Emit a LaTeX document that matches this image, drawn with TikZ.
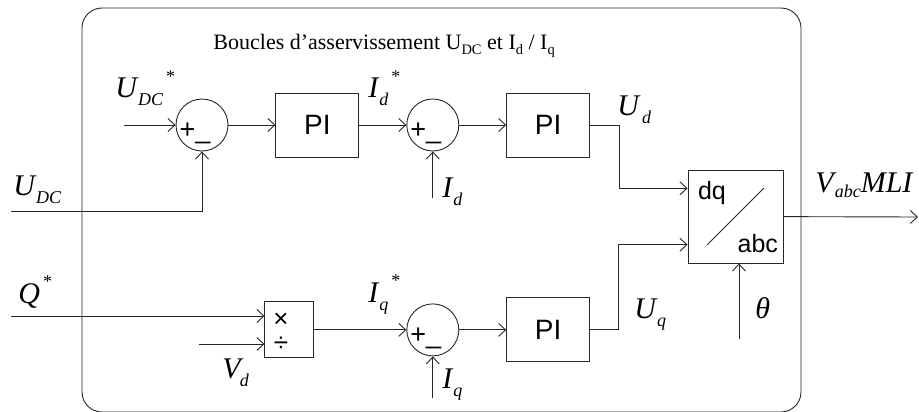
\documentclass[tikz,border=0pt]{standalone}
\usepackage{fontspec}
\setmainfont{Liberation Serif}
\setsansfont{Liberation Sans}
\usetikzlibrary{arrows.meta, positioning, calc}
\tikzstyle{signs} = [font=\sffamily\fontsize{27}{27}\selectfont, inner sep=0pt, xshift=-7pt, yshift=-8pt]
\tikzstyle{sum} = [circle, draw, minimum size=52pt, inner sep=0pt, label={[signs]center:+\textunderscore}]
\tikzstyle{pibox} = [rectangle, draw, minimum width=83pt, minimum height=64pt, font=\sffamily\fontsize{28}{28}\selectfont]
\tikzstyle{opbox} = [rectangle, draw, inner sep=0pt]
\tikzstyle{boxtxt} = [font=\sffamily\fontsize{25}{25}\selectfont, inner sep=0pt]
\tikzstyle{divtxt} = [font=\sffamily\fontsize{26}{26}\selectfont, inner sep=0pt]
\tikzstyle{sig} = [font=\fontsize{30}{30}\selectfont\itshape, inner sep=0pt, anchor=base west]
\tikzstyle{arrow} = [-{Straight Barb[length=7pt,width=13pt]}]
\newcommand{\lsub}[2][8pt]{\kern1pt\raisebox{-#1}{\fontsize{18}{18}\selectfont #2}}
\newcommand{\lstar}{\kern3pt\raisebox{16pt}{\fontsize{18}{18}\selectfont\upshape *}}
\newcommand{\tsub}[1]{\raisebox{-4.5pt}{\fontsize{14.5}{14.5}\selectfont #1}}

\begin{document}
\begin{tikzpicture}[x=1pt, y=-1pt, line width=0.9pt, draw=black!85, node distance=47pt]
\useasboundingbox (0,0) rectangle (919,412);
\draw[rounded corners=20pt] (82,8) rectangle (801,412);
\node (title) [anchor=base west, inner sep=0pt] at (213,50) {\fontsize{22}{22}\selectfont Boucles d’asservissement U\tsub{DC} et I\tsub{d} / I\tsub{q}};

% boucle U_DC / I_d
\node (sum1) [sum] at (202,125) {};
\node (pi1) [pibox, right=of sum1] {PI};
\node (sum2) [sum, right=of pi1] {};
\node (pi2) [pibox, right=of sum2] {PI};
% boucle Q / I_q
\node (sum3) [sum, below=152pt of sum2] {};
\node (pi3) [pibox, right=of sum3] {PI};
\node (div) [opbox, minimum width=49pt, minimum height=56pt, left=92pt of sum3] {};
\node (mul) [divtxt] at ($(div.center)+(-8.5,-10)$) {×};
\node (dvd) [divtxt] at ($(div.center)+(-8.5,14)$) {÷};
% transformation dq/abc
\node (dq) [opbox, minimum width=95pt, minimum height=93pt] at (735.5,216.5) {};
\node (dqtxt) [boxtxt, anchor=base west] at ($(dq.north west)+(10,30)$) {dq};
\node (abctxt) [boxtxt, anchor=base east] at ($(dq.south east)+(-5,-11)$) {abc};
\draw ($(dq.center)+(-28.5,28.5)$) -- ($(dq.center)+(28.5,-28.5)$);

\coordinate (udcin) at (124,125);
\coordinate (udcfb) at (11,211);
\coordinate (idin) at ($(sum2.south)+(0,47)$);
\coordinate (qin) at (11,316);
\coordinate (vdin) at (199,344);
\coordinate (iqin) at ($(sum3.south)+(0,42)$);
\coordinate (thetain) at (739,339);
\coordinate (vout) at (918,217);

\node (lbudcref) [sig] at (115,98) {U\lsub{DC}\lstar};
\node (lbudc) [sig] at (13,195) {U\lsub{DC}};
\node (lbidref) [sig] at (368,98) {I\lsub{d}\lstar};
\node (lbid) [sig] at (442,197) {I\lsub{d}};
\node (lbud) [sig] at (617,116) {U\kern2pt\lsub{d}};
\node (lbvabc) [sig] at (815,192) {V\lsub[5pt]{abc}MLI};
\node (lbqref) [sig] at (18,303) {Q\lstar};
\node (lbvd) [sig] at (222,378) {V\kern-2pt\lsub{d}};
\node (lbiqref) [sig] at (368,302) {I\lsub{q}\lstar};
\node (lbiq) [sig] at (442,388) {I\lsub{q}};
\node (lbuq) [sig] at (634,318) {U\lsub{q}};
\node (lbtheta) [sig] at (755,318) {θ};

\draw[arrow] (udcin) -- (sum1);
\draw[arrow] (sum1) -- (pi1);
\draw[arrow] (pi1) -- (sum2);
\draw[arrow] (sum2) -- (pi2);
\draw[arrow] (udcfb) -| (sum1);
\draw[arrow] (idin) -- (sum2);
\draw[arrow] (pi2.east) -- ++(29,0) |- ($(dq.north west)!0.2!(dq.south west)$);
\draw[arrow] (qin) -- (qin -| div.west);
\draw[arrow] (vdin) -- (vdin -| div.west);
\draw[arrow] (div) -- (sum3);
\draw[arrow] (iqin) -- (sum3);
\draw[arrow] (sum3) -- (pi3);
\draw[arrow] (pi3.east) -- ++(28,0) |- ($(dq.north west)!0.8!(dq.south west)$);
\draw[arrow] (thetain) -- (thetain |- dq.south);
\draw[arrow] (dq) -- (vout);
\end{tikzpicture}
\end{document}
